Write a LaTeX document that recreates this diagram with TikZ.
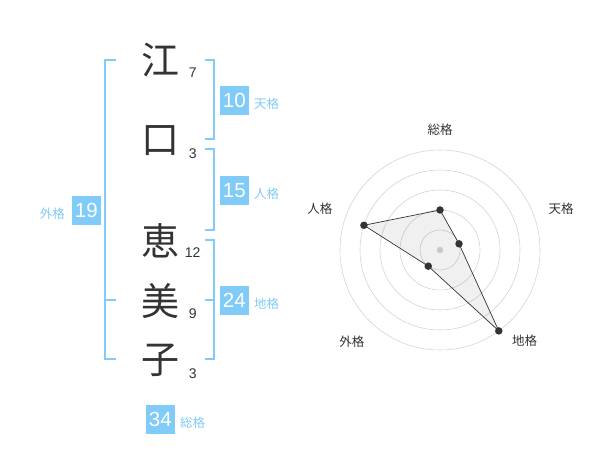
\documentclass[tikz,border=0pt]{standalone}
\usepackage{fontspec}
\setmainfont{Liberation Sans}
\newfontfamily\jp{Noto Sans CJK JP}
\usetikzlibrary{calc}
\definecolor{kakublue}{RGB}{128,203,248}
\definecolor{inkgray}{RGB}{51,51,51}
\definecolor{ringgray}{RGB}{212,212,212}

\begin{document}
\begin{tikzpicture}[x=1pt,y=-1pt,
    kanji/.style={font=\jp\fontsize{38}{38}\selectfont,text=inkgray,inner sep=0pt},
    strokes/.style={font=\fontsize{14}{14}\selectfont,text=inkgray,inner sep=0pt},
    kakubox/.style={fill=kakublue,text=white,minimum size=29pt,inner sep=0pt,
      font=\fontsize{20.5}{20.5}\selectfont},
    kakuname/.style={font=\jp\fontsize{12.5}{12.5}\selectfont,text=kakublue,inner sep=0pt},
    bracket/.style={draw=kakublue,line width=2pt},
    ring/.style={draw=ringgray,line width=0.6pt},
    axisname/.style={font=\jp\fontsize{12.5}{12.5}\selectfont,text=inkgray,inner sep=0pt},
    dot/.style={circle,fill=inkgray,inner sep=0pt,minimum size=7.5pt}]
  \useasboundingbox (0,0) rectangle (600,470);
  %% name and stroke counts
  \node[kanji] (k1) at (160,60) {江};
  \node[kanji] (k2) at (160,141) {口};
  \node[kanji] (k3) at (160,241) {恵};
  \node[kanji] (k4) at (160,301) {美};
  \node[kanji] (k5) at (160,360) {子};
  \node[strokes] (s1) at (192.7,72.7) {7};
  \node[strokes] (s2) at (192.7,153.3) {3};
  \node[strokes] (s3) at (192.7,252.3) {12};
  \node[strokes] (s4) at (192.7,313.3) {9};
  \node[strokes] (s5) at (192.7,373.3) {3};
  %% brackets
  \draw[bracket] (205,60) -- (214,60) -- (214,139) -- (205,139);
  \draw[bracket] (205,149) -- (214,149) -- (214,230) -- (205,230);
  \draw[bracket] (205,240) -- (214,240) -- (214,359) -- (205,359)
    (205,300) -- (214,300);
  \draw[bracket] (116,60) -- (105,60) -- (105,359) -- (116,359)
    (105,300) -- (116,300);
  %% totals
  \node[kakubox] (ten) at (234.3,100.3) {10};
  \node[kakuname,anchor=west] (tenname) at (254,104) {天格};
  \node[kakubox] (jin) at (234.3,190.3) {15};
  \node[kakuname,anchor=west] (jinname) at (254,194) {人格};
  \node[kakubox] (chi) at (234.3,300.3) {24};
  \node[kakuname,anchor=west] (chiname) at (254,304) {地格};
  \node[kakubox] (gai) at (86.3,210.3) {19};
  \node[kakuname,anchor=east] (gainame) at (65,214) {外格};
  \node[kakubox] (sou) at (160.3,419) {34};
  \node[kakuname,anchor=west] (souname) at (180,422.3) {総格};
  %% radar
  \begin{scope}[shift={(440,250)},y=1pt]
    \foreach \r in {20,40,...,100}
      \draw[ring] (0,0) circle (\r);
    \fill[ringgray] (0,0) circle (3.2);
    \node[axisname] (asou) at (90:120) {総格};
    \node[axisname] (aten) at (19:128) {天格};
    \node[axisname] (achi) at (-47:124) {地格};
    \node[axisname] (agai) at (-134:127) {外格};
    \node[axisname] (ajin) at (161:127) {人格};
    \coordinate (psou) at (90:40);
    \coordinate (pten) at (18:20);
    \coordinate (pchi) at (-54:100);
    \coordinate (pgai) at (-126:20);
    \coordinate (pjin) at (162:80);
    \draw[inkgray,line width=0.7pt,fill=black,fill opacity=0.06]
      (psou) -- (pten) -- (pchi) -- (pgai) -- (pjin) -- cycle;
    \foreach \p in {psou,pten,pchi,pgai,pjin}
      \node[dot] (d\p) at (\p) {};
  \end{scope}
\end{tikzpicture}
\end{document}
